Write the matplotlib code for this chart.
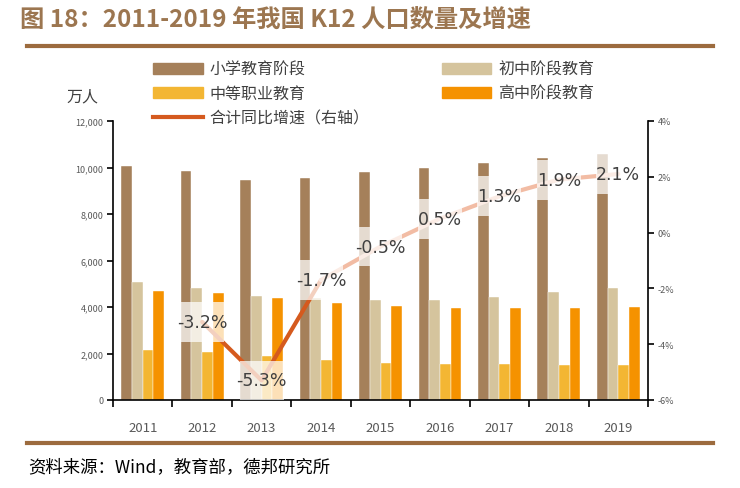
import matplotlib
matplotlib.use("Agg")
import matplotlib.pyplot as plt
import numpy as np
from matplotlib.patches import Patch, Rectangle
from matplotlib.lines import Line2D

plt.rcParams['font.family'] = ['Noto Sans CJK SC', 'DejaVu Sans']

years = ['2011', '2012', '2013', '2014', '2015', '2016', '2017', '2018', '2019']
primary = [10080, 9850, 9475, 9560, 9790, 9980, 10180, 10395, 10580]
junior = [5090, 4800, 4460, 4390, 4315, 4315, 4415, 4645, 4800]
vocational = [2165, 2080, 1880, 1705, 1605, 1550, 1550, 1505, 1520]
senior = [4690, 4600, 4370, 4170, 4040, 3970, 3970, 3945, 4000]
growth_years = years[1:]
growth = [-3.2, -5.3, -1.7, -0.5, 0.5, 1.3, 1.9, 2.1]

names = ['小学教育阶段', '初中阶段教育', '中等职业教育', '高中阶段教育', '合计同比增速（右轴）']
colors = ['#A5805A', '#D5C49D', '#F3B633', '#F59200']
line_dark = '#D55A1E'
line_pale = '#F2BCA4'

fig = plt.figure(figsize=(7.4, 4.89), dpi=100)
W, H = 740, 489
ax = fig.add_axes([113 / W, 1 - 401 / H, 535 / W, 279 / H])
ax2 = ax.twinx()

x = np.arange(len(years))
bw = 0.18
series = [primary, junior, vocational, senior]
for i, (vals, c) in enumerate(zip(series, colors)):
    ax.bar(x + (i - 1.5) * bw, vals, width=bw, color=c, edgecolor='white', linewidth=0.3, zorder=2)

ax.set_xlim(-0.5, len(years) - 0.5)
ax.set_ylim(0, 12000)
ax.set_yticks(np.arange(0, 12001, 2000))
ax.set_yticklabels([f'{v:,}' for v in range(0, 12001, 2000)])
ax.set_xticks(np.arange(-0.5, len(years), 1.0))
ax.set_xticklabels([])
ax.set_xticks(x, minor=True)
ax.set_xticklabels(years, minor=True)
ax.tick_params(axis='x', which='major', direction='out', length=5, width=1.2, color='black')
ax.tick_params(axis='x', which='minor', length=0, pad=15, labelsize=9.5, labelcolor='#595959')
ax.tick_params(axis='y', direction='out', length=4, width=1.2, labelsize=6.5, labelcolor='#595959', pad=3)

ax2.set_ylim(-6, 4)
ax2.set_yticks(np.arange(-6, 4.1, 2))
ax2.set_yticklabels([f'{int(v)}%' for v in np.arange(-6, 4.1, 2)])
ax2.tick_params(axis='y', direction='out', length=4, width=1.2, labelsize=6.5, labelcolor='#595959', pad=3)

for a in (ax, ax2):
    a.spines['top'].set_visible(False)
    for s in ('left', 'right', 'bottom'):
        a.spines[s].set_linewidth(1.2)
        a.spines[s].set_color('black')
ax.spines['right'].set_visible(False)
ax2.spines['left'].set_visible(False)
ax2.spines['bottom'].set_visible(False)

gx = x[1:]
# line: dark segments 2012-2014, pale afterwards
ax2.plot(gx[:3], growth[:3], color=line_dark, lw=3, zorder=3, solid_capstyle='round')
ax2.plot(gx[2:], growth[2:], color=line_pale, lw=3, zorder=3, solid_capstyle='round')
box_w, box_h = 0.74, 1.43
for xi, g in zip(gx, growth):
    ax2.add_patch(Rectangle((xi - box_w / 2, g - box_h / 2), box_w, box_h, fc='white', ec='none',
                            alpha=0.72, zorder=4, clip_on=False))
    ax2.text(xi, g, f'{g:.1f}%', ha='center', va='center', fontsize=12.5, color='#404040',
             family=['DejaVu Sans'], zorder=5)

handles = [Patch(color=colors[0]), Patch(color=colors[2]), Line2D([], [], color=line_dark, lw=3),
           Patch(color=colors[1]), Patch(color=colors[3])]
labels = [names[0], names[2], names[4], names[1], names[3]]
fig.legend(handles, labels, loc='upper left', bbox_to_anchor=(153 / W, 1 - 62 / H), ncol=2,
           frameon=False, fontsize=11.5, handlelength=3.1, handletextpad=0.45,
           columnspacing=4.5, labelspacing=0.45, borderpad=0, borderaxespad=0,
           labelcolor='#404040')

fig.text(66 / W, 1 - 97 / H, '万人', fontsize=11.5, color='#404040', ha='left', va='center')

fig.text(20 / W, 1 - 21 / H, '图 18：2011-2019 年我国 K12 人口数量及增速', fontsize=17.5,
         fontweight='bold', color='#9C7650', ha='left', va='center')
fig.add_artist(Line2D([27 / W, 713 / W], [1 - 47 / H, 1 - 47 / H], color='#9C6B3E', lw=3))
fig.add_artist(Line2D([27 / W, 713 / W], [1 - 444 / H, 1 - 444 / H], color='#9C6B3E', lw=3))
fig.text(28 / W, 1 - 467 / H, '资料来源：Wind，教育部，德邦研究所', fontsize=12.5, color='black',
         ha='left', va='center')

fig.savefig('out.png', dpi=100)
